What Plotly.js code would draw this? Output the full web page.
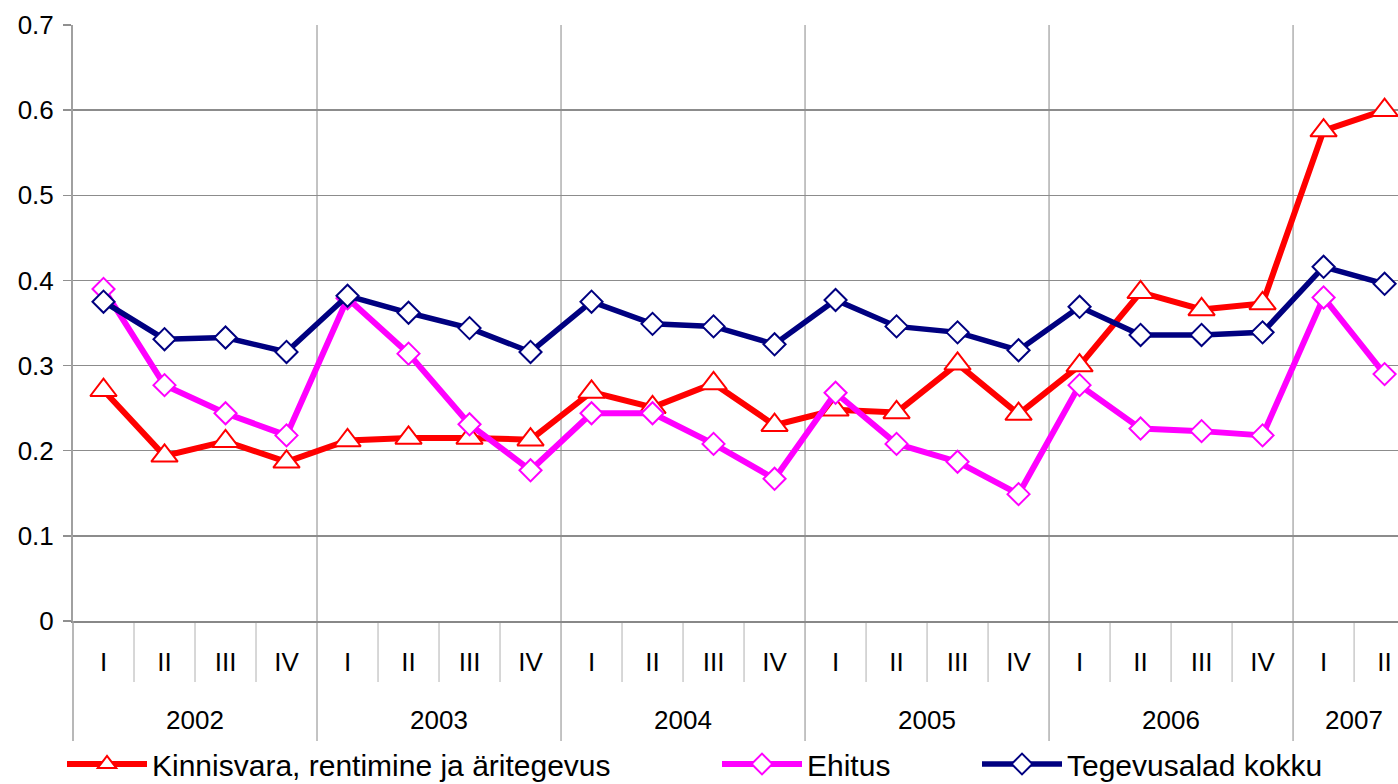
<!DOCTYPE html>
<html>
<head>
<meta charset="utf-8">
<script src="https://cdn.plot.ly/plotly-3.0.1.min.js"></script>
<style>
html, body { margin: 0; padding: 0; background: #ffffff; overflow: hidden; }
#chart { width: 1398px; height: 784px; }
</style>
</head>
<body>
<div id="chart"></div>
<script>
// ---- data ----
var quarters = ["I","II","III","IV","I","II","III","IV","I","II","III","IV","I","II","III","IV","I","II","III","IV","I","II"];
var years = ["2002","2003","2004","2005","2006","2007"];
var quartersPerYear = [4,4,4,4,4,2];

var kinnisvara = [0.271,0.194,0.211,0.187,0.212,0.215,0.215,0.213,0.269,0.251,0.279,0.230,0.248,0.245,0.302,0.243,0.300,0.386,0.366,0.373,0.576,0.600];
var ehitus     = [0.390,0.277,0.244,0.218,0.379,0.314,0.231,0.177,0.244,0.244,0.208,0.167,0.268,0.208,0.187,0.149,0.277,0.226,0.223,0.218,0.380,0.290];
var kokku      = [0.375,0.331,0.333,0.316,0.382,0.362,0.344,0.316,0.375,0.349,0.346,0.325,0.377,0.346,0.339,0.318,0.369,0.336,0.336,0.339,0.416,0.396];

var seriesNames = ["Kinnisvara, rentimine ja äritegevus", "Ehitus", "Tegevusalad kokku"];

// ---- build ----
var idx = quarters.map(function(_, i){ return i; });
var FONT = "Liberation Sans, Arial, sans-serif";

function tr(name, y, color, symbol, size, lw, legendId) {
  return {
    type: "scatter", mode: "lines+markers", name: name,
    x: idx, y: y, legend: legendId,
    line: {color: color, width: lw},
    marker: {symbol: symbol, size: size, color: "#ffffff", line: {color: color, width: 2}},
    cliponaxis: false, hoverinfo: "skip"
  };
}

var traces = [
  tr(seriesNames[0], kinnisvara, "#ff0000", "triangle-up", 23, 6, "legend"),
  tr(seriesNames[1], ehitus, "#ff00ff", "diamond", 17, 6, "legend2"),
  tr(seriesNames[2], kokku, "#000080", "diamond", 17, 5.5, "legend3")
];

var plotH = 784 - 25 - 163;
function px2paper(px) { return -px / plotH; }

var shapes = [];
var annotations = [];
var start = 0;
quartersPerYear.forEach(function(n, k) {
  annotations.push({
    x: start + (n - 1) / 2, xref: "x", y: px2paper(99), yref: "paper",
    text: years[k], showarrow: false, xanchor: "center", yanchor: "middle",
    font: {family: FONT, size: 26, color: "#000"}
  });
  for (var q = 0; q < n; q++) {
    var b = start + q + 0.5;
    if (b > quarters.length - 1) continue;
    if (q === n - 1) {
      shapes.push({type: "line", xref: "x", yref: "paper", x0: b, x1: b, y0: px2paper(120), y1: 1,
        line: {color: "#b0b0b0", width: 1.5}, layer: "below"});
    } else {
      shapes.push({type: "line", xref: "x", yref: "paper", x0: b, x1: b, y0: px2paper(61), y1: 0,
        line: {color: "#b0b0b0", width: 1}, layer: "below"});
    }
  }
  start += n;
});
shapes.push({type: "line", xref: "paper", yref: "paper", x0: 0, x1: 0, y0: px2paper(120), y1: 0,
  line: {color: "#a0a0a0", width: 1.5}});

var legendBase = {orientation: "h", xanchor: "left", yanchor: "middle", y: px2paper(143),
  font: {family: FONT, size: 30, color: "#000"}, itemwidth: 80, bgcolor: "rgba(0,0,0,0)",
  borderwidth: 0, tracegroupgap: 0};
function lg(xpx) {
  var o = JSON.parse(JSON.stringify(legendBase));
  o.x = (xpx - 73) / (1398 - 73);
  o.xref = "paper";
  return o;
}

var layout = {
  width: 1398, height: 784,
  margin: {l: 73, r: 0, t: 25, b: 163, pad: 0, autoexpand: false},
  paper_bgcolor: "#ffffff", plot_bgcolor: "#ffffff",
  font: {family: FONT, size: 26, color: "#000"},
  showlegend: true,
  xaxis: {
    type: "linear", range: [-0.5, 21.22], fixedrange: true, automargin: false,
    tickvals: idx, ticktext: quarters, ticks: "", ticklabelstandoff: 17,
    tickfont: {family: FONT, size: 26, color: "#000"},
    showgrid: false, zeroline: false,
    showline: true, linecolor: "#888888", linewidth: 2
  },
  yaxis: {
    range: [0, 0.7], dtick: 0.1, tick0: 0, fixedrange: true, automargin: false,
    showgrid: true, gridcolor: "#8c8c8c", gridwidth: 1.5,
    zeroline: false,
    showline: true, linecolor: "#a0a0a0", linewidth: 2,
    ticks: "outside", ticklen: 8, tickcolor: "#909090", tickwidth: 1.5,
    ticklabelstandoff: 4,
    tickfont: {family: FONT, size: 26, color: "#000"}
  },
  shapes: shapes,
  annotations: annotations,
  legend: lg(62),
  legend2: lg(717),
  legend3: lg(977)
};

Plotly.newPlot("chart", traces, layout, {displayModeBar: false, staticPlot: true});
</script>
</body>
</html>
